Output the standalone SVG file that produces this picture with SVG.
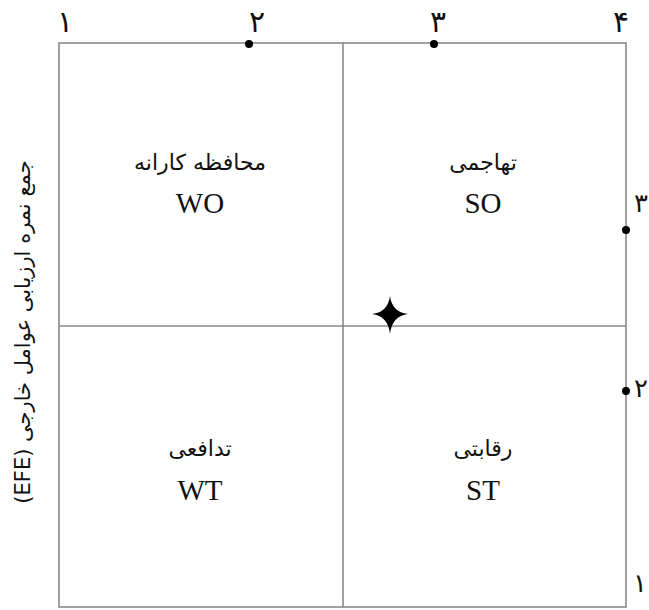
<svg xmlns="http://www.w3.org/2000/svg" width="649" height="610" viewBox="0 0 649 610">
<style>
.ln{stroke:#8a8a8a;stroke-width:1.6;fill:none}
.fa{font-family:"DejaVu Sans",sans-serif;fill:#111;text-anchor:middle;direction:rtl;unicode-bidi:embed}
.en{font-family:"Liberation Serif",serif;fill:#111;text-anchor:middle;font-size:29px}
.num{font-family:"DejaVu Sans",sans-serif;fill:#111;text-anchor:middle;font-size:30px}
.rnum{font-family:"DejaVu Sans",sans-serif;fill:#111;text-anchor:end;font-size:26px}
.dot{fill:#000}
</style>
<rect width="649" height="610" fill="#fff"/>
<g id="connectors">
<rect class="ln" x="59" y="43" width="567" height="564"/>
<line class="ln" x1="343" y1="43" x2="343" y2="607"/>
<line class="ln" x1="59" y1="326" x2="626" y2="326"/>
</g>
<g id="axis-top">
<text class="num" x="65" y="32">۱</text>
<text class="num" x="257" y="32">۲</text>
<text class="num" x="438" y="32">۳</text>
<text class="num" x="621" y="32">۴</text>
<circle class="dot" cx="249" cy="44" r="4"/>
<circle class="dot" cx="434" cy="44" r="4"/>
</g>
<g id="axis-right">
<text class="rnum" x="648" y="212">۳</text>
<text class="rnum" x="648" y="397">۲</text>
<text class="rnum" x="647" y="592">۱</text>
<circle class="dot" cx="626" cy="230" r="4"/>
<circle class="dot" cx="626" cy="391" r="4"/>
</g>
<g id="axis-left">
<text class="fa" font-size="21" direction="rtl" transform="translate(30,332) rotate(-90)">جمع نمره ارزیابی عوامل خارجی (EFE)</text>
</g>
<g id="WO">
<text class="fa" font-size="22" x="200" y="170">محافظه کارانه</text>
<text class="en" x="200" y="213">WO</text>
</g>
<g id="SO">
<text class="fa" font-size="22" x="483" y="170">تهاجمی</text>
<text class="en" x="483" y="213">SO</text>
</g>
<g id="WT">
<text class="fa" font-size="22" x="200" y="456">تدافعی</text>
<text class="en" x="200" y="500">WT</text>
</g>
<g id="ST">
<text class="fa" font-size="22" x="483" y="456">رقابتی</text>
<text class="en" x="483" y="500">ST</text>
</g>
<g id="star">
<path d="M390 296 Q392 312 408 314 Q392 316 390 334 Q388 316 372 314 Q388 312 390 296 Z" fill="#000"/>
</g>
</svg>
